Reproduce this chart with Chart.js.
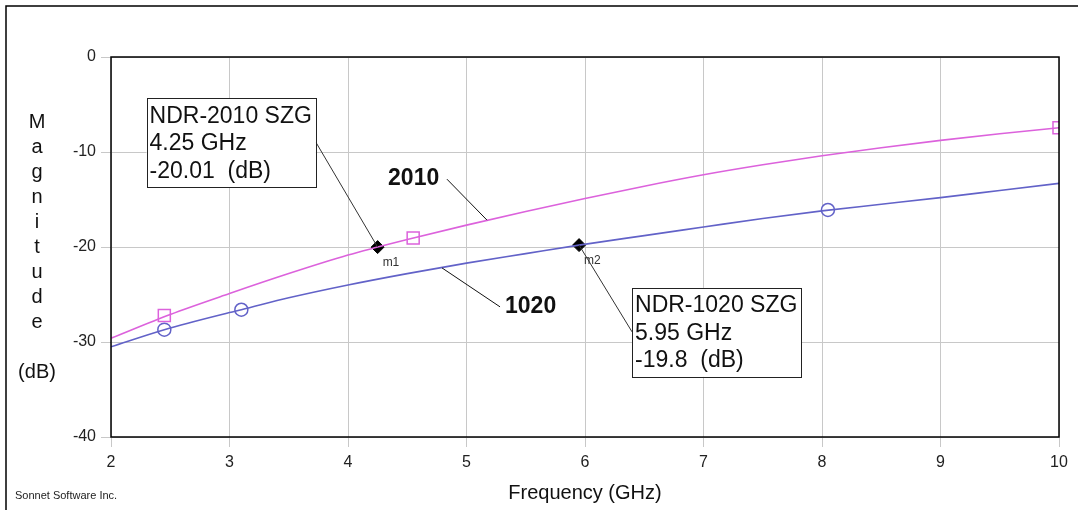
<!DOCTYPE html>
<html lang="en">
<head>
<meta charset="UTF-8">
<title>Magnitude</title>
<script src="https://cdn.jsdelivr.net/npm/chart.js"></script>
<style>
  body { margin: 0; background: #fff; }
  #wrap { width: 1078px; height: 510px; position: relative; }
</style>
</head>
<body>
<div id="wrap"><canvas id="myChart" width="1078" height="510"></canvas></div>
<script>
// curve data (GHz, dB)
const freq2010 = [2, 2.5, 3, 3.5, 4, 4.25, 4.5, 5, 5.5, 6, 6.5, 7, 7.5, 8, 8.5, 9, 9.5, 10];
const mag2010  = [-29.6, -27.1, -24.9, -22.8, -20.85, -20.01, -19.2, -17.7, -16.27, -14.9, -13.6, -12.4, -11.35, -10.4, -9.55, -8.78, -8.08, -7.45];
const freq1020 = [2, 2.45, 3, 3.1, 3.5, 4, 4.5, 5, 5.5, 5.95, 6.5, 7, 7.5, 8, 8.5, 9, 9.5, 10];
const mag1020  = [-30.5, -28.7, -26.9, -26.6, -25.35, -24.0, -22.8, -21.7, -20.7, -19.8, -18.8, -17.9, -17.0, -16.2, -15.5, -14.8, -14.05, -13.3];

// symbols drawn on the curves
const sym2010Freq = [2.45, 4.55, 10];
const sym2010Mag  = [-27.2, -19.05, -7.45];
const sym1020Freq = [2.45, 3.1, 8.05];
const sym1020Mag  = [-28.7, -26.6, -16.1];

// markers
const markerNames = ['m1', 'm2'];
const markerTrace = ['NDR-2010 SZG', 'NDR-1020 SZG'];
const markerFreq  = [4.25, 5.95];
const markerMag   = [-20.01, -19.8];

const xTicks = [2, 3, 4, 5, 6, 7, 8, 9, 10];
const yTicks = [0, -10, -20, -30, -40];

const FONT = '"Liberation Sans", Arial, sans-serif';
const PINK = '#dc62dc';
const BLUE = '#6262c8';

const pts = (xs, ys) => xs.map((x, i) => ({ x: x, y: ys[i] }));

// where the marker boxes and trace labels sit (data units)
const boxAt = [{ x: 2.30, y: -4.34, side: 'right' }, { x: 6.397, y: -24.3, side: 'left' }];
const traceLabels = [
  { text: '2010', x: 4.338, y: -13.49, from: [4.835, -12.86], to: [5.173, -17.17] },
  { text: '1020', x: 5.325, y: -26.95, from: [4.793, -22.2], to: [5.283, -26.3] }
];

const decor = {
  id: 'decor',
  afterDatasetsDraw(chart) {
    const ctx = chart.ctx;
    const a = chart.chartArea;
    const xs = chart.scales.x, ys = chart.scales.y;
    ctx.save();
    // plot frame
    ctx.strokeStyle = '#000';
    ctx.lineWidth = 1.5;
    ctx.strokeRect(a.left, a.top, a.right - a.left, a.bottom - a.top);
    // outer frame (top and left)
    ctx.lineWidth = 1.5;
    ctx.beginPath();
    ctx.moveTo(6, 510); ctx.lineTo(6, 6); ctx.lineTo(1078, 6);
    ctx.stroke();

    // trace labels with leader lines
    ctx.lineWidth = 1;
    ctx.strokeStyle = '#111';
    traceLabels.forEach(t => {
      ctx.beginPath();
      ctx.moveTo(xs.getPixelForValue(t.from[0]), ys.getPixelForValue(t.from[1]));
      ctx.lineTo(xs.getPixelForValue(t.to[0]), ys.getPixelForValue(t.to[1]));
      ctx.stroke();
      ctx.fillStyle = '#111';
      ctx.font = 'bold 23px ' + FONT;
      ctx.textAlign = 'left';
      ctx.textBaseline = 'alphabetic';
      ctx.fillText(t.text, xs.getPixelForValue(t.x), ys.getPixelForValue(t.y));
    });

    // marker boxes
    markerNames.forEach((m, i) => {
      const px = xs.getPixelForValue(markerFreq[i]);
      const py = ys.getPixelForValue(markerMag[i]);
      const lines = [markerTrace[i], markerFreq[i] + ' GHz', markerMag[i] + '  (dB)'];
      ctx.font = '23px ' + FONT;
      const w = Math.max(...lines.map(s => ctx.measureText(s).width)) + 7;
      const h = 89;
      const bx = xs.getPixelForValue(boxAt[i].x);
      const by = ys.getPixelForValue(boxAt[i].y);
      const ax = boxAt[i].side === 'right' ? bx + w : bx;
      ctx.strokeStyle = '#333';
      ctx.lineWidth = 1;
      ctx.beginPath();
      ctx.moveTo(ax, by + 44);
      ctx.lineTo(px, py);
      ctx.stroke();
      ctx.fillStyle = '#fff';
      ctx.fillRect(bx, by, w, h);
      ctx.strokeStyle = '#222';
      ctx.strokeRect(Math.round(bx) + 0.5, Math.round(by) + 0.5, Math.round(w), h);
      ctx.fillStyle = '#111';
      ctx.textAlign = 'left';
      ctx.textBaseline = 'middle';
      lines.forEach((s, k) => ctx.fillText(s, bx + 3, by + 18 + k * 27.5));
      // diamond label
      ctx.font = '12px ' + FONT;
      ctx.fillStyle = '#333';
      ctx.fillText(m, px + 5, py + 16);
    });

    // y axis title, stacked letters
    ctx.fillStyle = '#111';
    ctx.font = '20px ' + FONT;
    ctx.textAlign = 'center';
    ctx.textBaseline = 'middle';
    'Magnitude'.split('').forEach((c, k) => ctx.fillText(c, 37, 122 + k * 25));
    ctx.fillText('(dB)', 37, 372);
    ctx.font = '20px ' + FONT;
    ctx.fillText('Frequency (GHz)', (a.left + a.right) / 2, 493);
    ctx.font = '11px ' + FONT;
    ctx.textAlign = 'left';
    ctx.fillStyle = '#222';
    ctx.fillText('Sonnet Software Inc.', 15, 496);
    ctx.restore();
  }
};

const ctx = document.getElementById('myChart');
const myChart = new Chart(ctx, {
  type: 'line',
  data: {
    datasets: [
      { label: '2010', data: pts(freq2010, mag2010), borderColor: PINK, borderWidth: 1.6, pointRadius: 0, cubicInterpolationMode: 'monotone' },
      { label: '1020', data: pts(freq1020, mag1020), borderColor: BLUE, borderWidth: 1.6, pointRadius: 0, cubicInterpolationMode: 'monotone' },
      { label: 's2010', data: pts(sym2010Freq, sym2010Mag), showLine: false, pointStyle: 'rect', pointRadius: 8.5,
        borderColor: PINK, backgroundColor: '#fff', pointBorderWidth: 1.5, clip: 0 },
      { label: 's1020', data: pts(sym1020Freq, sym1020Mag), showLine: false, pointStyle: 'circle', pointRadius: 6.5,
        borderColor: BLUE, backgroundColor: '#fff', pointBorderWidth: 1.5, clip: 0 },
      { label: 'markers', data: pts(markerFreq, markerMag), showLine: false, pointStyle: 'rectRot', pointRadius: 6.5,
        borderColor: '#000', backgroundColor: '#000', clip: 0 }
    ]
  },
  options: {
    responsive: false,
    animation: false,
    layout: { padding: { top: 57, right: 19, left: 0, bottom: 0 } },
    plugins: { legend: { display: false }, tooltip: { enabled: false } },
    scales: {
      x: {
        type: 'linear', min: 2, max: 10,
        afterBuildTicks: s => { s.ticks = xTicks.map(v => ({ value: v })); },
        afterFit: s => { s.height = 73; s.paddingLeft = 0; s.paddingRight = 0; },
        grid: { color: '#c8c8c8', lineWidth: 1, tickLength: 10 },
        border: { display: false },
        ticks: { color: '#222', font: { family: FONT, size: 16 }, padding: 6, maxRotation: 0 }
      },
      y: {
        min: -40, max: 0,
        afterBuildTicks: s => { s.ticks = yTicks.map(v => ({ value: v })); },
        afterFit: s => { s.width = 111; s.paddingTop = 0; s.paddingBottom = 0; },
        grid: { color: '#c8c8c8', lineWidth: 1, tickLength: 10 },
        border: { display: false },
        ticks: { color: '#222', font: { family: FONT, size: 16 }, padding: 5 }
      }
    }
  },
  plugins: [decor]
});
</script>
</body>
</html>
